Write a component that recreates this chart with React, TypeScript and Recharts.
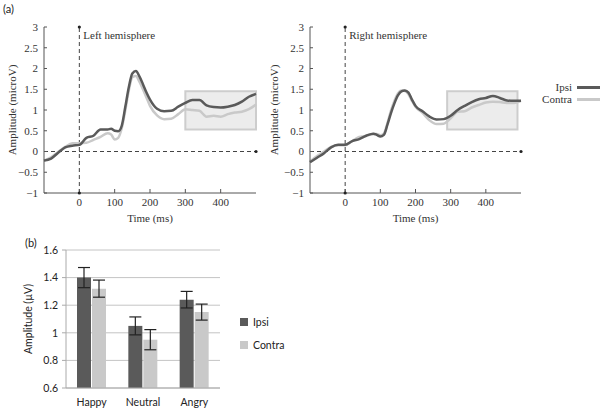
import {
  LineChart,
  Line,
  BarChart,
  Bar,
  XAxis,
  YAxis,
  CartesianGrid,
  ReferenceLine,
  ReferenceArea,
  ReferenceDot,
  ErrorBar,
  Label,
} from 'recharts'

// ERP time points (ms)
const TIME = [
  -100, -80, -60, -40, -20, 0, 20, 40, 60, 80, 90, 100, 110, 120, 130, 140, 150, 160, 170, 180, 190,
  200, 220, 240, 260, 280, 300, 320, 340, 360, 380, 400, 420, 440, 460, 480, 500,
]

const LEFT_IPSI = [
  -0.22, -0.17, -0.03, 0.1, 0.14, 0.16, 0.33, 0.38, 0.53, 0.53, 0.55, 0.5, 0.49, 0.62, 1.07, 1.55,
  1.88, 1.94, 1.81, 1.62, 1.42, 1.25, 1.03, 0.97, 0.98, 1.08, 1.17, 1.24, 1.24, 1.11, 1.07, 1.06,
  1.08, 1.12, 1.2, 1.32, 1.39,
]
const LEFT_CONTRA = [
  -0.22, -0.14, -0.01, 0.11, 0.2, 0.2, 0.21, 0.28, 0.35, 0.44, 0.41, 0.29, 0.33, 0.56, 0.99, 1.47,
  1.79, 1.82, 1.68, 1.5, 1.3, 1.1, 0.87, 0.78, 0.79, 0.9, 1.02, 1.0, 0.98, 0.84, 0.86, 0.84, 0.9,
  0.94, 0.96, 1.02, 1.13,
]
const RIGHT_IPSI = [
  -0.26, -0.15, -0.04, 0.1, 0.16, 0.16, 0.25, 0.3, 0.38, 0.43, 0.4, 0.36, 0.4, 0.64, 0.92, 1.16,
  1.35, 1.45, 1.47, 1.42, 1.25, 1.1, 0.97, 0.84, 0.77, 0.78, 0.86, 1.0, 1.1, 1.19, 1.26, 1.29, 1.34,
  1.29, 1.23, 1.22, 1.22,
]
const RIGHT_CONTRA = [
  -0.24, -0.11, 0.0, 0.11, 0.15, 0.15, 0.25, 0.35, 0.38, 0.42, 0.42, 0.39, 0.43, 0.68, 0.98, 1.22,
  1.4, 1.47, 1.46, 1.38, 1.22, 1.08, 0.93, 0.75, 0.66, 0.67, 0.8, 0.96, 0.97, 1.06, 1.12, 1.18, 1.2,
  1.19, 1.17, 1.17, 1.22,
]

const X_TICKS = [0, 100, 200, 300, 400]
const Y_TICKS = [-1, -0.5, 0, 0.5, 1, 1.5, 2, 2.5, 3]

// Panel (b)
const EMOTIONS = ['Happy', 'Neutral', 'Angry']
const IPSI_MEAN = [1.4, 1.05, 1.24]
const CONTRA_MEAN = [1.32, 0.95, 1.15]
const IPSI_SE = [0.073, 0.065, 0.06]
const CONTRA_SE = [0.062, 0.073, 0.058]
const BAR_TICKS = [0.6, 0.8, 1, 1.2, 1.4, 1.6]
const CATEGORY_EDGES = [0, 1, 2, 3]

const DARK = '#5a5a5a'
const LIGHT = '#c9c9c9'
const AXIS = '#555'
const SERIF = '"Liberation Serif", "DejaVu Serif", serif'
const SANS = 'Lato, "Open Sans", sans-serif'

const leftData = TIME.map((t, i) => ({ t, ipsi: LEFT_IPSI[i], contra: LEFT_CONTRA[i] }))
const rightData = TIME.map((t, i) => ({ t, ipsi: RIGHT_IPSI[i], contra: RIGHT_CONTRA[i] }))
const barData = EMOTIONS.map((name, i) => ({
  name,
  ipsi: IPSI_MEAN[i],
  contra: CONTRA_MEAN[i],
  ipsiErr: IPSI_SE[i],
  contraErr: CONTRA_SE[i],
}))

const fmtY = (v: number) => (v < 0 ? '\u2212' + Math.abs(v) : String(v))

function ErpChart({
  data,
  title,
  yAxisWidth,
  right,
  box,
}: {
  data: { t: number; ipsi: number; contra: number }[]
  title: string
  yAxisWidth: number
  right: number
  box: [number, number]
}) {
  const tick = { fontSize: 11, fill: '#333', fontFamily: SERIF }
  return (
    <LineChart width={290} height={230} data={data} margin={{ top: 27, right, bottom: 7, left: 0 }}>
      <XAxis
        dataKey="t"
        type="number"
        domain={[-100, 500]}
        ticks={X_TICKS}
        tick={tick}
        tickSize={-4}
        tickMargin={9}
        stroke={AXIS}
        height={30}
      >
        <Label value="Time (ms)" position="insideBottom" offset={1} style={{ fontSize: 11, fill: '#333', fontFamily: SERIF }} />
      </XAxis>
      <YAxis
        type="number"
        domain={[-1, 3]}
        ticks={Y_TICKS}
        tickFormatter={fmtY}
        tick={tick}
        tickSize={-3}
        tickMargin={9}
        stroke={AXIS}
        width={yAxisWidth}
        interval={0}
      >
        <Label
          value="Amplitude (microV)"
          angle={-90}
          position="insideLeft"
          offset={12}
          style={{ textAnchor: 'middle', fontSize: 11, fill: '#333', fontFamily: SERIF }}
        />
      </YAxis>
      <ReferenceArea x1={box[0]} x2={box[1]} y1={0.53} y2={1.45} fill="#ececec" fillOpacity={1} stroke="#cdcdcd" strokeWidth={2} />
      <ReferenceLine y={0} stroke="#444" strokeDasharray="4 3" />
      <ReferenceLine x={0} stroke="#444" strokeDasharray="4 3">
        <Label value={title} position="insideTopLeft" offset={4} style={{ fontSize: 11, fill: '#333', fontFamily: SERIF }} />
      </ReferenceLine>
      <ReferenceDot x={0} y={3} r={1.6} fill="#222" stroke="none" />
      <ReferenceDot x={0} y={-1} r={1.6} fill="#222" stroke="none" />
      <ReferenceDot x={500} y={0} r={1.6} fill="#222" stroke="none" />
      <Line type="monotone" dataKey="contra" stroke={LIGHT} strokeWidth={2.5} dot={false} isAnimationActive={false} />
      <Line type="monotone" dataKey="ipsi" stroke={DARK} strokeWidth={2.5} dot={false} isAnimationActive={false} />
    </LineChart>
  )
}

export default function App() {
  return (
    <div style={{ position: 'absolute', left: 0, top: 0, width: 603, height: 412, background: '#fff' }}>
      <div style={{ position: 'absolute', left: 3, top: 2, fontFamily: SANS, fontSize: 11, color: '#222' }}>(a)</div>
      <div style={{ position: 'absolute', left: 0, top: 0 }}>
        <ErpChart data={leftData} title="Left hemisphere" yAxisWidth={44} right={34} box={[300, 500]} />
      </div>
      <div style={{ position: 'absolute', left: 262, top: 0 }}>
        <ErpChart data={rightData} title="Right hemisphere" yAxisWidth={48} right={31} box={[290, 490]} />
      </div>

      {/* line legend */}
      <div style={{ position: 'absolute', left: 530, top: 81, fontFamily: SERIF, fontSize: 11, color: '#333' }}>
        {[
          { name: 'Ipsi', color: DARK },
          { name: 'Contra', color: LIGHT },
        ].map((s) => (
          <div key={s.name} style={{ display: 'flex', alignItems: 'center', height: 12, justifyContent: 'flex-end', width: 70 }}>
            <span style={{ marginRight: 5 }}>{s.name}</span>
            <span style={{ display: 'inline-block', width: 23, height: 3, background: s.color }} />
          </div>
        ))}
      </div>

      <div style={{ position: 'absolute', left: 25, top: 236, fontFamily: SANS, fontSize: 11, color: '#222' }}>(b)</div>
      <div style={{ position: 'absolute', left: 0, top: 240 }}>
        <BarChart
          width={240}
          height={170}
          data={barData}
          margin={{ top: 10, right: 20, bottom: 2, left: 0 }}
          barSize={14}
          barGap={1}
        >
          <CartesianGrid vertical={false} stroke="#c4c4c4" />
          {/* tick marks at category boundaries */}
          <XAxis
            xAxisId="edge"
            type="number"
            domain={[0, 3]}
            ticks={CATEGORY_EDGES}
            tick={false}
            axisLine={false}
            tickSize={3}
            stroke="#aaa"
            height={0}
          />
          <XAxis
            dataKey="name"
            tick={{ fontSize: 10.5, fill: '#222', fontFamily: SANS }}
            tickLine={false}
            tickSize={4}
            tickMargin={7}
            stroke="#aaa"
            height={20}
          />
          <YAxis
            domain={[0.6, 1.6]}
            ticks={BAR_TICKS}
            tick={{ fontSize: 10.5, fill: '#222', fontFamily: SANS }}
            tickSize={4}
            tickMargin={4}
            stroke="#aaa"
            width={66}
            interval={0}
          >
            <Label
              value="Amplitude (µV)"
              angle={-90}
              position="insideLeft"
              offset={28}
              style={{ textAnchor: 'middle', fontSize: 10.5, fill: '#222', fontFamily: SANS }}
            />
          </YAxis>
          <Bar dataKey="ipsi" fill={DARK} isAnimationActive={false}>
            <ErrorBar dataKey="ipsiErr" width={6} stroke="#222" strokeWidth={1.2} />
          </Bar>
          <Bar dataKey="contra" fill={LIGHT} isAnimationActive={false}>
            <ErrorBar dataKey="contraErr" width={6} stroke="#222" strokeWidth={1.2} />
          </Bar>
        </BarChart>
      </div>

      {/* bar legend */}
      <div style={{ position: 'absolute', left: 240, top: 310, fontFamily: SANS, fontSize: 10.5, color: '#222' }}>
        {[
          { name: 'Ipsi', color: DARK },
          { name: 'Contra', color: LIGHT },
        ].map((s) => (
          <div key={s.name} style={{ display: 'flex', alignItems: 'center', height: 23 }}>
            <span style={{ display: 'inline-block', width: 8, height: 8, background: s.color, marginRight: 5 }} />
            <span>{s.name}</span>
          </div>
        ))}
      </div>
    </div>
  )
}
